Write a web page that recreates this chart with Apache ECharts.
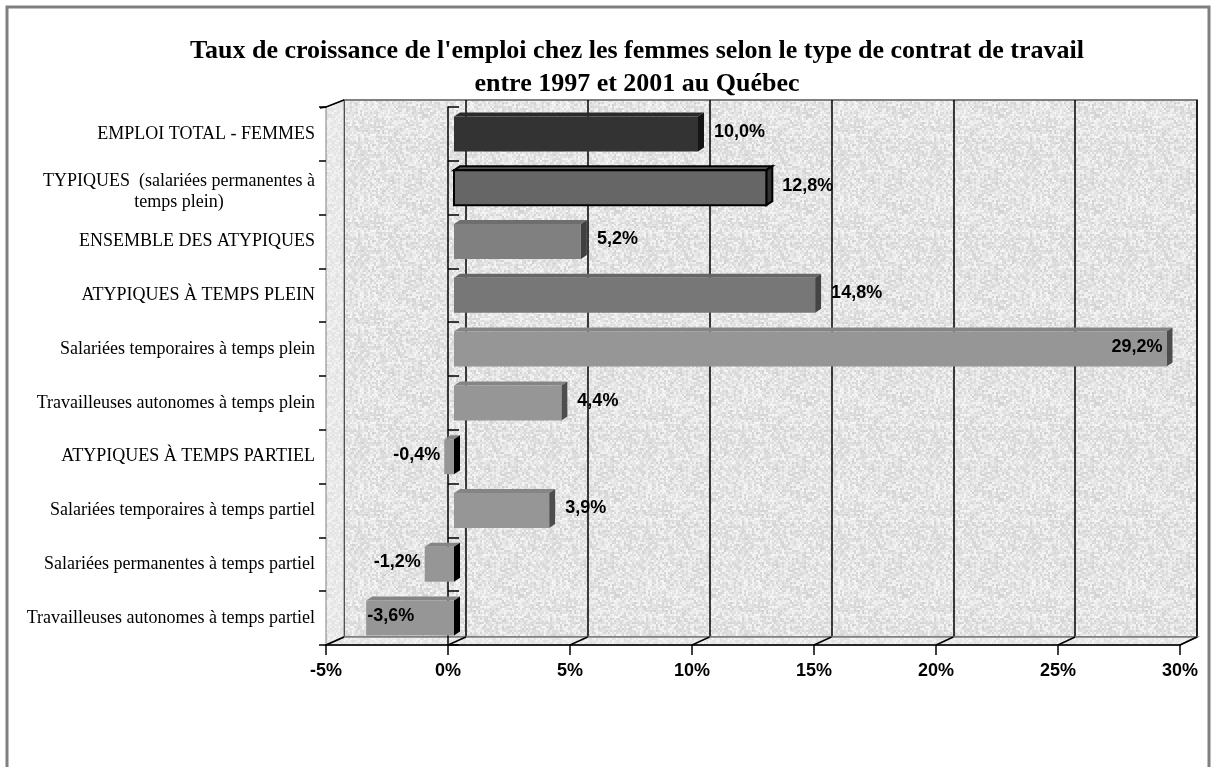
<!DOCTYPE html>
<html>
<head>
<meta charset="utf-8">
<script src="https://cdn.jsdelivr.net/npm/echarts@6/dist/echarts.min.js"></script>
<style>
  html, body { margin: 0; padding: 0; background: #fff; }
  #main { width: 1217px; height: 767px; }
</style>
</head>
<body>
<div id="main"></div>
<script>
// data
const categories = [
  'EMPLOI TOTAL - FEMMES',
  'TYPIQUES  (salariées permanentes à\ntemps plein)',
  'ENSEMBLE DES ATYPIQUES',
  'ATYPIQUES À TEMPS PLEIN',
  'Salariées temporaires à temps plein',
  'Travailleuses autonomes à temps plein',
  'ATYPIQUES À TEMPS PARTIEL',
  'Salariées temporaires à temps partiel',
  'Salariées permanentes à temps partiel',
  'Travailleuses autonomes à temps partiel'
];
const growth = [10.0, 12.8, 5.2, 14.8, 29.2, 4.4, -0.4, 3.9, -1.2, -3.6];
const axisMin = -5, axisMax = 30, axisStep = 5;

// styles (one per bar)
const barColors = [
  { front: '#333333', top: '#2a2a2a', side: '#151515' },
  { front: '#666666', top: '#555555', side: '#333333', stroke: '#000', lw: 2 },
  { front: '#808080', top: '#6e6e6e', side: '#404040' },
  { front: '#777777', top: '#666666', side: '#444444' },
  { front: '#969696', top: '#858585', side: '#4d4d4d' },
  { front: '#969696', top: '#858585', side: '#4d4d4d' },
  { front: '#969696', top: '#858585', side: '#4d4d4d' },
  { front: '#969696', top: '#858585', side: '#4d4d4d' },
  { front: '#969696', top: '#858585', side: '#4d4d4d' },
  { front: '#969696', top: '#858585', side: '#4d4d4d' }
];

const W = 1217, H = 767;
const FRONT = { left: 326, right: 37, top: 107, bottom: 122 };
const BACK = { left: 344, right: 20, top: 100, bottom: 130 };
const BARS = { left: 332, right: 31, top: 107, bottom: 122 };
const serif = '"Liberation Serif", "Times New Roman", serif';
const sans = '"Liberation Sans", Arial, sans-serif';

// granite-like texture for the walls
function makeTexture(base, spread) {
  const c = document.createElement('canvas');
  c.width = 96; c.height = 96;
  const ctx = c.getContext('2d');
  const img = ctx.createImageData(96, 96);
  let s = 12345;
  const rnd = () => { s = (s * 1103515245 + 12345) % 2147483648; return s / 2147483648; };
  for (let y = 0; y < 96; y += 2) {
    for (let x = 0; x < 96; x += 2) {
      const g = base + Math.round((rnd() - 0.5) * spread);
      for (let k = 0; k < 4; k++) {
        const px = x + (k % 2), py = y + (k >> 1);
        const j = (py * 96 + px) * 4;
        const g2 = g + Math.round((rnd() - 0.5) * 10);
        img.data[j] = g2; img.data[j + 1] = g2; img.data[j + 2] = g2; img.data[j + 3] = 255;
      }
    }
  }
  ctx.putImageData(img, 0, 0);
  return c;
}
const wallTexture = makeTexture(228, 36);
const sideTexture = makeTexture(234, 20);

const measure = document.createElement('canvas').getContext('2d');
const labelFont = 'bold 18px ' + sans;
const fmt = v => v.toFixed(1).replace('.', ',') + '%';

function renderBar(params, api) {
  const v = api.value(0), i = api.value(1);
  const p0 = api.coord([0, i]);
  const p1 = api.coord([v, i]);
  const lo = api.coord([axisMin, i])[0];
  const hi = api.coord([axisMax, i])[0];
  const h = 35, dx = 6, dy = 4;
  const top = p0[1] - h / 2, bot = p0[1] + h / 2;
  const xl = Math.min(p0[0], p1[0]), xr = Math.max(p0[0], p1[0]);
  const c = barColors[i];
  const stroke = c.stroke || null, lw = c.lw || 0;
  const txt = fmt(v);
  measure.font = labelFont;
  const tw = measure.measureText(txt).width;
  let tx, align;
  if (v >= 0) {
    tx = xr + dx + 10; align = 'left';
    if (tx + tw > hi) { tx = xr - 4; align = 'right'; }
  } else {
    tx = xl - 4; align = 'right';
    if (tx - tw < lo) { tx = xl + 1; align = 'left'; }
  }
  return {
    type: 'group',
    children: [
      { type: 'polygon', shape: { points: [[xl, top], [xr, top], [xr + dx, top - dy], [xl + dx, top - dy]] },
        style: { fill: c.top, stroke: stroke, lineWidth: lw } },
      { type: 'polygon', shape: { points: [[xr, top], [xr + dx, top - dy], [xr + dx, bot - dy], [xr, bot]] },
        style: { fill: v < 0 ? '#000' : c.side, stroke: stroke, lineWidth: lw } },
      { type: 'rect', shape: { x: xl, y: top, width: xr - xl, height: h },
        style: { fill: c.front, stroke: stroke, lineWidth: lw } },
      { type: 'text', x: tx, y: p0[1] - 2, z2: 10,
        style: { text: txt, font: labelFont, fill: '#000', align: align, verticalAlign: 'middle' } }
    ]
  };
}

// width of the widest line of a multi-line category, to centre the lines under each other
function blockWidth(val) {
  measure.font = '18px ' + serif;
  return Math.ceil(Math.max.apply(null, val.split('\n').map(s => measure.measureText(s).width)));
}
const typW = blockWidth(categories[1]);

const chart = echarts.init(document.getElementById('main'));

const fx0 = FRONT.left, fx1 = W - FRONT.right, fy0 = FRONT.top, fy1 = H - FRONT.bottom;
const bx0 = BACK.left, bx1 = W - BACK.right, by0 = BACK.top, by1 = H - BACK.bottom;

const option = {
  backgroundColor: '#fff',
  animation: false,
  title: {
    text: "Taux de croissance de l'emploi chez les femmes selon le type de contrat de travail\nentre 1997 et 2001 au Québec",
    left: 632, top: 30, textAlign: 'center',
    textStyle: { fontFamily: serif, fontWeight: 'bold', fontSize: 26, lineHeight: 33, color: '#000' }
  },
  grid: [
    { left: FRONT.left, right: FRONT.right, top: FRONT.top, bottom: FRONT.bottom, z: 3 },
    { left: BACK.left, right: BACK.right, top: BACK.top, bottom: BACK.bottom, show: true,
      backgroundColor: { image: wallTexture, repeat: 'repeat' }, borderColor: '#808080', borderWidth: 2 },
    { left: BARS.left, right: BARS.right, top: BARS.top, bottom: BARS.bottom }
  ],
  xAxis: [
    { type: 'value', gridIndex: 0, min: axisMin, max: axisMax, interval: axisStep, z: 3,
      axisLine: { show: true, onZero: false, lineStyle: { color: '#000', width: 1.5 } },
      axisTick: { show: true, length: 10, lineStyle: { color: '#000', width: 1.5 } },
      splitLine: { show: false },
      axisLabel: { formatter: '{value}%', margin: 17, color: '#000',
        fontFamily: sans, fontWeight: 'bold', fontSize: 18 } },
    { type: 'value', gridIndex: 1, min: axisMin, max: axisMax, interval: axisStep,
      axisLine: { show: false }, axisTick: { show: false }, axisLabel: { show: false },
      splitLine: { show: true, lineStyle: { color: '#000', width: 1.5 } } },
    { type: 'value', gridIndex: 2, min: axisMin, max: axisMax, interval: axisStep, show: false }
  ],
  yAxis: [
    { type: 'category', gridIndex: 0, data: categories, inverse: true, z: 3,
      axisLine: { show: false, onZero: false },
      axisTick: { show: true, length: 7, lineStyle: { color: '#000', width: 1.5 } },
      axisLabel: { margin: 11, color: '#000', fontFamily: serif, fontSize: 18, lineHeight: 21,
        formatter: function (val) {
          if (val.indexOf('\n') < 0) return val;
          return val.split('\n').map(s => '{w|' + s + '}').join('\n');
        },
        rich: {
          w: { width: typW, align: 'center', padding: [8, 0, 0, 0], fontFamily: serif, fontSize: 18, lineHeight: 21, color: '#000' }
        } } },
    { type: 'category', gridIndex: 0, data: categories, inverse: true, z: 3,
      axisLine: { show: true, onZero: true, lineStyle: { color: '#000', width: 1.5 } },
      axisTick: { show: true, length: 11, lineStyle: { color: '#000', width: 1.5 } },
      axisLabel: { show: false } },
    { type: 'category', gridIndex: 1, data: categories, inverse: true, show: false },
    { type: 'category', gridIndex: 2, data: categories, inverse: true, show: false }
  ],
  graphic: [
    { type: 'rect', z: -10, shape: { x: 7, y: 7, width: 1202, height: 800 },
      style: { fill: 'none', stroke: '#808080', lineWidth: 3 } },
    // left wall
    { type: 'polygon', z: 1, shape: { points: [[fx0, fy0], [bx0, by0], [bx0, by1], [fx0, fy1]] },
      style: { fill: { image: sideTexture, repeat: 'repeat' }, stroke: '#808080', lineWidth: 1 } },
    { type: 'polyline', z: 1, shape: { points: [[fx0 - 6, fy0 + 1], [fx0, fy0], [bx0, by0]] },
      style: { stroke: '#000', lineWidth: 1.5, fill: null } },
    // floor
    { type: 'polygon', z: 1, shape: { points: [[fx0, fy1], [fx1, fy1], [bx1, by1], [bx0, by1]] },
      style: { fill: { image: sideTexture, repeat: 'repeat' }, stroke: '#808080', lineWidth: 1.5 } }
  ],
  series: [
    { type: 'custom', name: 'Taux de croissance', xAxisIndex: 2, yAxisIndex: 3, z: 5,
      renderItem: renderBar, encode: { x: 0, y: 1 },
      data: growth.map((v, i) => [v, i]) }
  ]
};
chart.setOption(option);

// floor edges joining the front ticks to the back wall gridlines
const floorLines = [];
for (let t = axisMin; t <= axisMax; t += axisStep) {
  const xf = chart.convertToPixel({ xAxisIndex: 0 }, t);
  const xb = chart.convertToPixel({ xAxisIndex: 1 }, t);
  floorLines.push({ type: 'line', z: 2, shape: { x1: xf, y1: fy1, x2: xb, y2: by1 },
    style: { stroke: '#000', lineWidth: 1.5 } });
}
chart.setOption({ graphic: option.graphic.concat(floorLines) });
</script>
</body>
</html>
